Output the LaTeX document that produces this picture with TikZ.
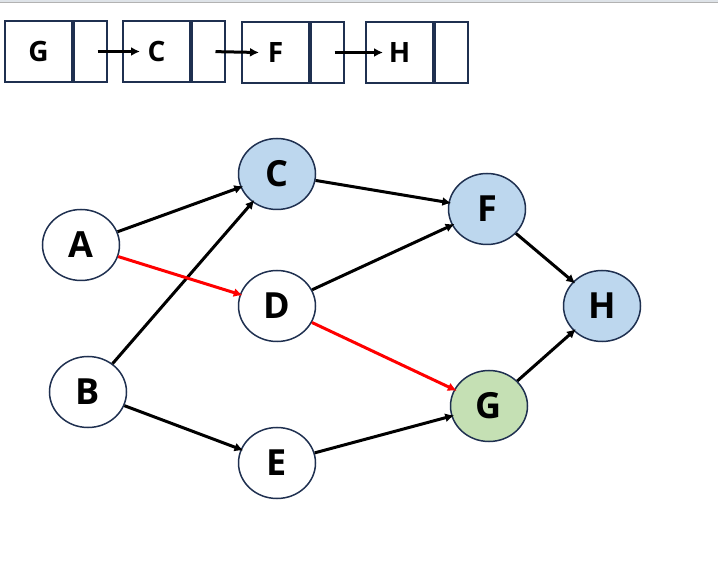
\documentclass[tikz,border=0pt]{standalone}
\usepackage{fontspec}
\setmainfont{Open Sans}
\usepackage{tikz}
\usetikzlibrary{shapes.geometric,arrows.meta}

\definecolor{navy}{HTML}{1F3050}
\definecolor{nodeblue}{HTML}{BDD7EE}
\definecolor{nodegreen}{HTML}{C5E0B4}
\definecolor{topbar}{HTML}{DEE3E8}

\begin{document}
\begin{tikzpicture}[x=1pt,y=-1pt,
		vertex/.style={shape=ellipse,draw=navy,line width=1.5pt,fill=white,minimum width=77pt,minimum height=71pt,inner sep=0pt,font=\fontsize{36}{36}\selectfont\bfseries},
		cell/.style={shape=rectangle,draw=navy,line width=2pt,minimum height=61pt,inner sep=0pt,font=\fontsize{28}{28}\selectfont\bfseries},
		edge/.style={line width=3pt,-{Latex[length=9pt,width=9pt]},shorten >=-3pt}]
		\useasboundingbox (0,0) rectangle (718,569);
		\fill[topbar] (0,0) rectangle (718,3);
		\draw[gray!60,line width=1pt] (0,3) -- (718,3);
		
		% linked list
		\foreach \n/\x/\y in {G/6/51.5,C/124/51.5,F/243/52.5,H/367/52.5} {
			\node[cell,minimum width=67pt,anchor=east] (List\n) at (\x+67,\y) {\n};
			\node[cell,minimum width=33pt,anchor=west] (Ptr\n) at (List\n.east) {};
		}
		
		\foreach \a/\b in {G/C,C/F,F/H}{
			\draw[edge,shorten <=7pt,shorten >=0pt] (Ptr\a.center) -- ([xshift=18pt]List\b.west);
		}
		
		% graph
		\node[vertex] (A) at (81,245) {A};
		\node[vertex] (B) at (88,392) {B};
		\node[vertex,fill=nodeblue] (C) at (277,174) {C};
		\node[vertex] (D) at (277,306) {D};
		\node[vertex] (E) at (277,463) {E};
		\node[vertex,fill=nodeblue] (F) at (487,209) {F};
		\node[vertex,fill=nodegreen] (G) at (489,406) {G};
		\node[vertex,fill=nodeblue] (H) at (602,306) {H};
		
		\foreach \a/\b in {A/C,B/C,B/E,C/F,D/F,E/G,F/H,G/H}{
			\draw[edge] (\a) to (\b);
		}
		\draw[edge,red] (A) to (D);
		\draw[edge,red] (D) to (G);
		
	\end{tikzpicture}
\end{document}
